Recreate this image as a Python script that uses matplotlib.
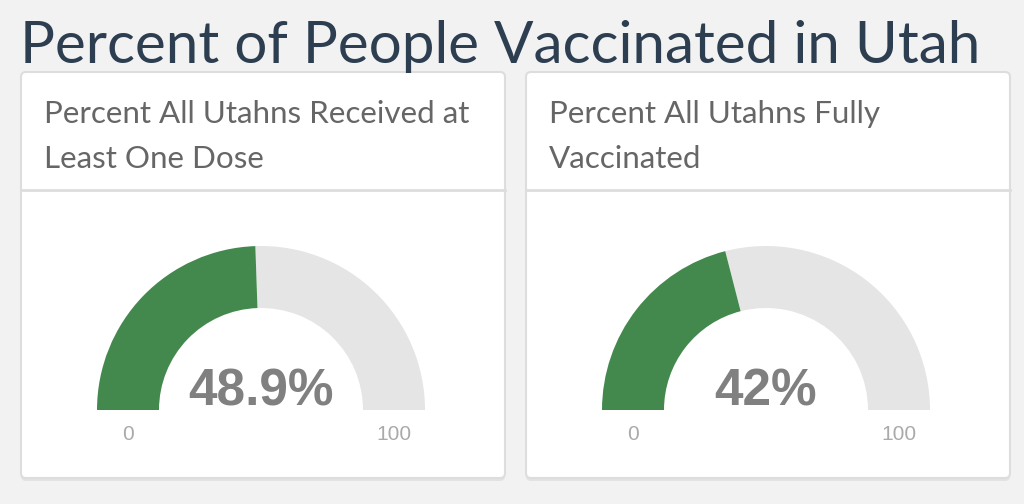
import matplotlib
matplotlib.use('Agg')
import matplotlib.pyplot as plt
from matplotlib.patches import Wedge, FancyBboxPatch

# data
page_title = 'Percent of People Vaccinated in Utah'
card_titles = [['Percent All Utahns Received at', 'Least One Dose'],
               ['Percent All Utahns Fully', 'Vaccinated']]
values = [48.9, 42]
value_labels = ['48.9%', '42%']
gauge_min = 0
gauge_max = 100

W, H = 1024, 504
fig = plt.figure(figsize=(W / 100, H / 100), dpi=100)
fig.patch.set_facecolor('#f2f2f2')
ax = fig.add_axes([0, 0, 1, 1])
ax.set_xlim(0, W)
ax.set_ylim(0, H)
ax.set_aspect('equal')
ax.axis('off')

ax.text(20, H - 63, page_title, fontfamily='Lato', fontsize=42,
        color='#2c3e50', va='baseline', ha='left')

card_left = [21, 526]
card_w = 484
card_top, card_bottom = 72, 478
outer_r, inner_r = 164, 102

for i in range(2):
    x0 = card_left[i]
    # card with soft shadow
    shadow = FancyBboxPatch((x0, H - card_bottom - 3), card_w, card_bottom - card_top,
                            boxstyle='round,pad=0,rounding_size=5',
                            facecolor='#e2e2e2', edgecolor='none', zorder=1)
    ax.add_patch(shadow)
    card = FancyBboxPatch((x0, H - card_bottom), card_w, card_bottom - card_top,
                          boxstyle='round,pad=0,rounding_size=5',
                          facecolor='white', edgecolor='#dddddd', linewidth=1.5, zorder=2)
    ax.add_patch(card)
    ax.plot([x0, x0 + card_w], [H - 190, H - 190], color='#dddddd', lw=2, zorder=3)

    for j, line in enumerate(card_titles[i]):
        ax.text(x0 + 23, H - 123 - 45 * j, line, fontfamily='Lato', fontsize=22.6,
                color='#666666', va='baseline', ha='left', zorder=4)

    cx = x0 + 240
    cy = H - 410
    frac = (values[i] - gauge_min) / (gauge_max - gauge_min)
    split = 180 - 180 * frac
    ax.add_patch(Wedge((cx, cy), outer_r, 0, split, width=outer_r - inner_r,
                       facecolor='#e6e5e6', edgecolor='none', zorder=3))
    ax.add_patch(Wedge((cx, cy), outer_r, split, 180, width=outer_r - inner_r,
                       facecolor='#43894e', edgecolor='none', zorder=3))

    ax.text(cx, cy + 4, value_labels[i], fontfamily='Liberation Sans', fontweight='bold',
            fontsize=37, color='#808080', ha='center', va='baseline', zorder=4)
    ax.text(cx - (outer_r + inner_r) / 2, cy - 25, str(gauge_min), fontfamily='Liberation Sans',
            fontsize=15, color='#aaaaaa', ha='center', va='center', zorder=4)
    ax.text(cx + (outer_r + inner_r) / 2, cy - 25, str(gauge_max), fontfamily='Liberation Sans',
            fontsize=15, color='#aaaaaa', ha='center', va='center', zorder=4)

fig.savefig('out.png', dpi=100, facecolor=fig.get_facecolor())
